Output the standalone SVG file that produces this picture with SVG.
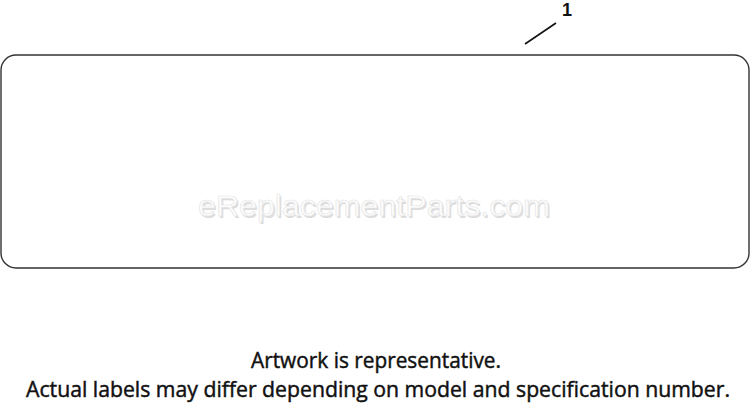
<svg xmlns="http://www.w3.org/2000/svg" width="750" height="404" viewBox="0 0 750 404">
<style>
.note{font-family:"Open Sans","Noto Sans",sans-serif;font-size:21px;fill:#111;stroke:#111;stroke-width:0.45;text-anchor:middle}
.wm{font-family:"Liberation Sans",Arial,sans-serif;font-size:30px;text-anchor:middle}
.wm-sh{fill:#dcdcdc}
.wm-fg{fill:#fdfdfd;stroke:#e4e4e4;stroke-width:0.6}
.lbl{font-family:"Liberation Sans",Arial,sans-serif;font-size:18px;font-weight:bold;fill:#111}
</style>
<rect width="750" height="404" fill="#fff"/>
<g id="label-part">
<rect x="1" y="55" width="748" height="213" rx="15" ry="15" fill="none" stroke="#333" stroke-width="1.4"/>
</g>
<g id="watermark">
<text class="wm wm-sh" x="375.5" y="217.5" textLength="352" lengthAdjust="spacingAndGlyphs">eReplacementParts.com</text>
<text class="wm wm-fg" x="374" y="216" textLength="352" lengthAdjust="spacingAndGlyphs">eReplacementParts.com</text>
</g>
<g id="connectors">
<line x1="525" y1="44" x2="556" y2="23" stroke="#111" stroke-width="1.6"/>
</g>
<g id="callout-1">
<text class="lbl" x="562" y="16">1</text>
</g>
<text class="note" x="376" y="368" textLength="250" lengthAdjust="spacingAndGlyphs">Artwork is representative.</text>
<text class="note" x="378" y="397" textLength="704" lengthAdjust="spacingAndGlyphs">Actual labels may differ depending on model and specification number.</text>
</svg>
